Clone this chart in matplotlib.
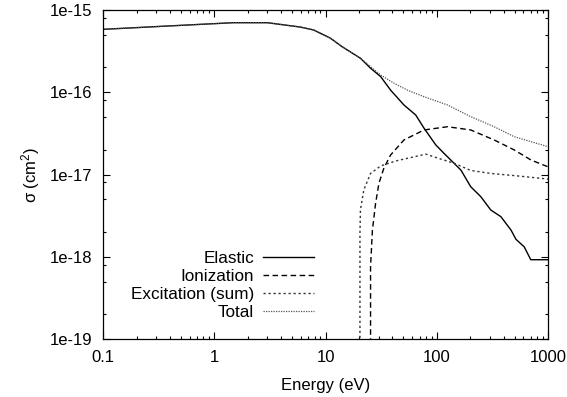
import numpy as np
import matplotlib
matplotlib.use("Agg")
import matplotlib.pyplot as plt
from matplotlib.ticker import LogLocator, FuncFormatter, NullFormatter

plt.rcParams['font.family'] = ['Liberation Sans', 'DejaVu Sans']
plt.rcParams['mathtext.fontset'] = 'custom'
plt.rcParams['mathtext.rm'] = 'Liberation Sans'
plt.rcParams['mathtext.it'] = 'Liberation Sans'

# cross sections vs energy (eV), cm^2
elastic_E = [0.1, 0.375, 1.48, 3.0, 5.96, 7.85, 11.1, 14.1, 20.6, 25.4, 31.3, 38.5, 50.7,
             64.7, 76.9, 98, 116, 143, 165, 202, 249, 306, 377, 465, 515, 611, 700, 1000]
elastic = [5.82e-16, 6.38e-16, 7.01e-16, 7.01e-16, 6.2e-16, 5.71e-16, 4.53e-16, 3.58e-16,
           2.59e-16, 1.96e-16, 1.55e-16, 1.06e-16, 7.0e-17, 5.29e-17, 3.65e-17, 2.29e-17,
           1.81e-17, 1.37e-17, 1.13e-17, 7.1e-18, 5.37e-18, 3.7e-18, 3.07e-18, 2.11e-18,
           1.63e-18, 1.32e-18, 9.2e-19, 9.2e-19]

ion_E = [24.6, 25.4, 26.4, 28.2, 30.2, 33.5, 38.5, 50.7, 76.9, 125, 202, 328, 497, 703, 1000]
ionization = [0.0, 7.57e-19, 2.11e-18, 4.47e-18, 7.8e-18, 1.2e-17, 1.73e-17, 2.63e-17,
              3.48e-17, 3.81e-17, 3.48e-17, 2.63e-17, 1.99e-17, 1.5e-17, 1.24e-17]

exc_E = [19.8, 20.4, 20.6, 22.1, 25.4, 31.3, 42.7, 62.5, 79.6, 104, 143, 202, 306, 497, 1000]
excitation = [0.0, 1.93e-18, 3.7e-18, 6.5e-18, 1.03e-17, 1.27e-17, 1.46e-17, 1.64e-17,
              1.77e-17, 1.57e-17, 1.37e-17, 1.12e-17, 1.03e-17, 9.7e-18, 8.8e-18]

total_E = [0.1, 0.375, 1.48, 3.0, 5.96, 7.85, 11.1, 14.1, 20.6, 25.4, 31.3, 41.2, 54.5,
           76.9, 125, 202, 328, 497, 1000]
total = [5.82e-16, 6.38e-16, 7.01e-16, 7.01e-16, 6.2e-16, 5.71e-16, 4.53e-16, 3.58e-16,
         2.59e-16, 2.05e-16, 1.62e-16, 1.29e-16, 1.06e-16, 8.83e-17, 7.0e-17, 5.05e-17,
         3.81e-17, 2.88e-17, 2.18e-17]

fig = plt.figure(figsize=(5.67, 3.97), dpi=100)
ax = fig.add_axes([0.1817, 0.1461, 0.7848, 0.8287])

ax.plot(elastic_E, elastic, color='black', lw=1.0, ls='-', label='Elastic')
ax.plot(ion_E, ionization, color='black', lw=1.0, ls=(0, (4, 2.5)), label='Ionization')
ax.plot(exc_E, excitation, color='#333333', lw=1.0, ls=(0, (1.6, 2)), label='Excitation (sum)')
ax.plot(total_E, total, color='#555555', lw=0.9, ls=(0, (1, 1)), label='Total')

ax.set_xscale('log')
ax.set_yscale('log', nonpositive='clip')
ax.set_xlim(0.1, 1000)
ax.set_ylim(1e-19, 1e-15)

ax.xaxis.set_major_formatter(FuncFormatter(lambda v, p: '%g' % v))
ax.yaxis.set_major_formatter(FuncFormatter(lambda v, p: '1e%d' % round(np.log10(v))))
ax.yaxis.set_minor_locator(LogLocator(base=10, subs=[2, 5, 8], numticks=20))
ax.yaxis.set_minor_formatter(NullFormatter())
ax.xaxis.set_minor_formatter(NullFormatter())

ax.tick_params(which='both', direction='in', top=True, right=True, labelsize=12, width=0.8)
ax.tick_params(which='major', length=5, pad=8)
ax.tick_params(which='minor', length=2.5)
for s in ax.spines.values():
    s.set_linewidth(0.9)

ax.set_xlabel('Energy (eV)', fontsize=12, labelpad=9)
ax.set_ylabel('σ (cm$^{2}$)', fontsize=12, labelpad=5)

leg = ax.legend(loc='upper right', bbox_to_anchor=(0.474, 0.268), frameon=False,
                markerfirst=False, fontsize=12.3, handlelength=3.0, handletextpad=0.5,
                labelspacing=0.17, borderpad=0, borderaxespad=0)

fig.savefig('out.png', dpi=100, facecolor='white')
